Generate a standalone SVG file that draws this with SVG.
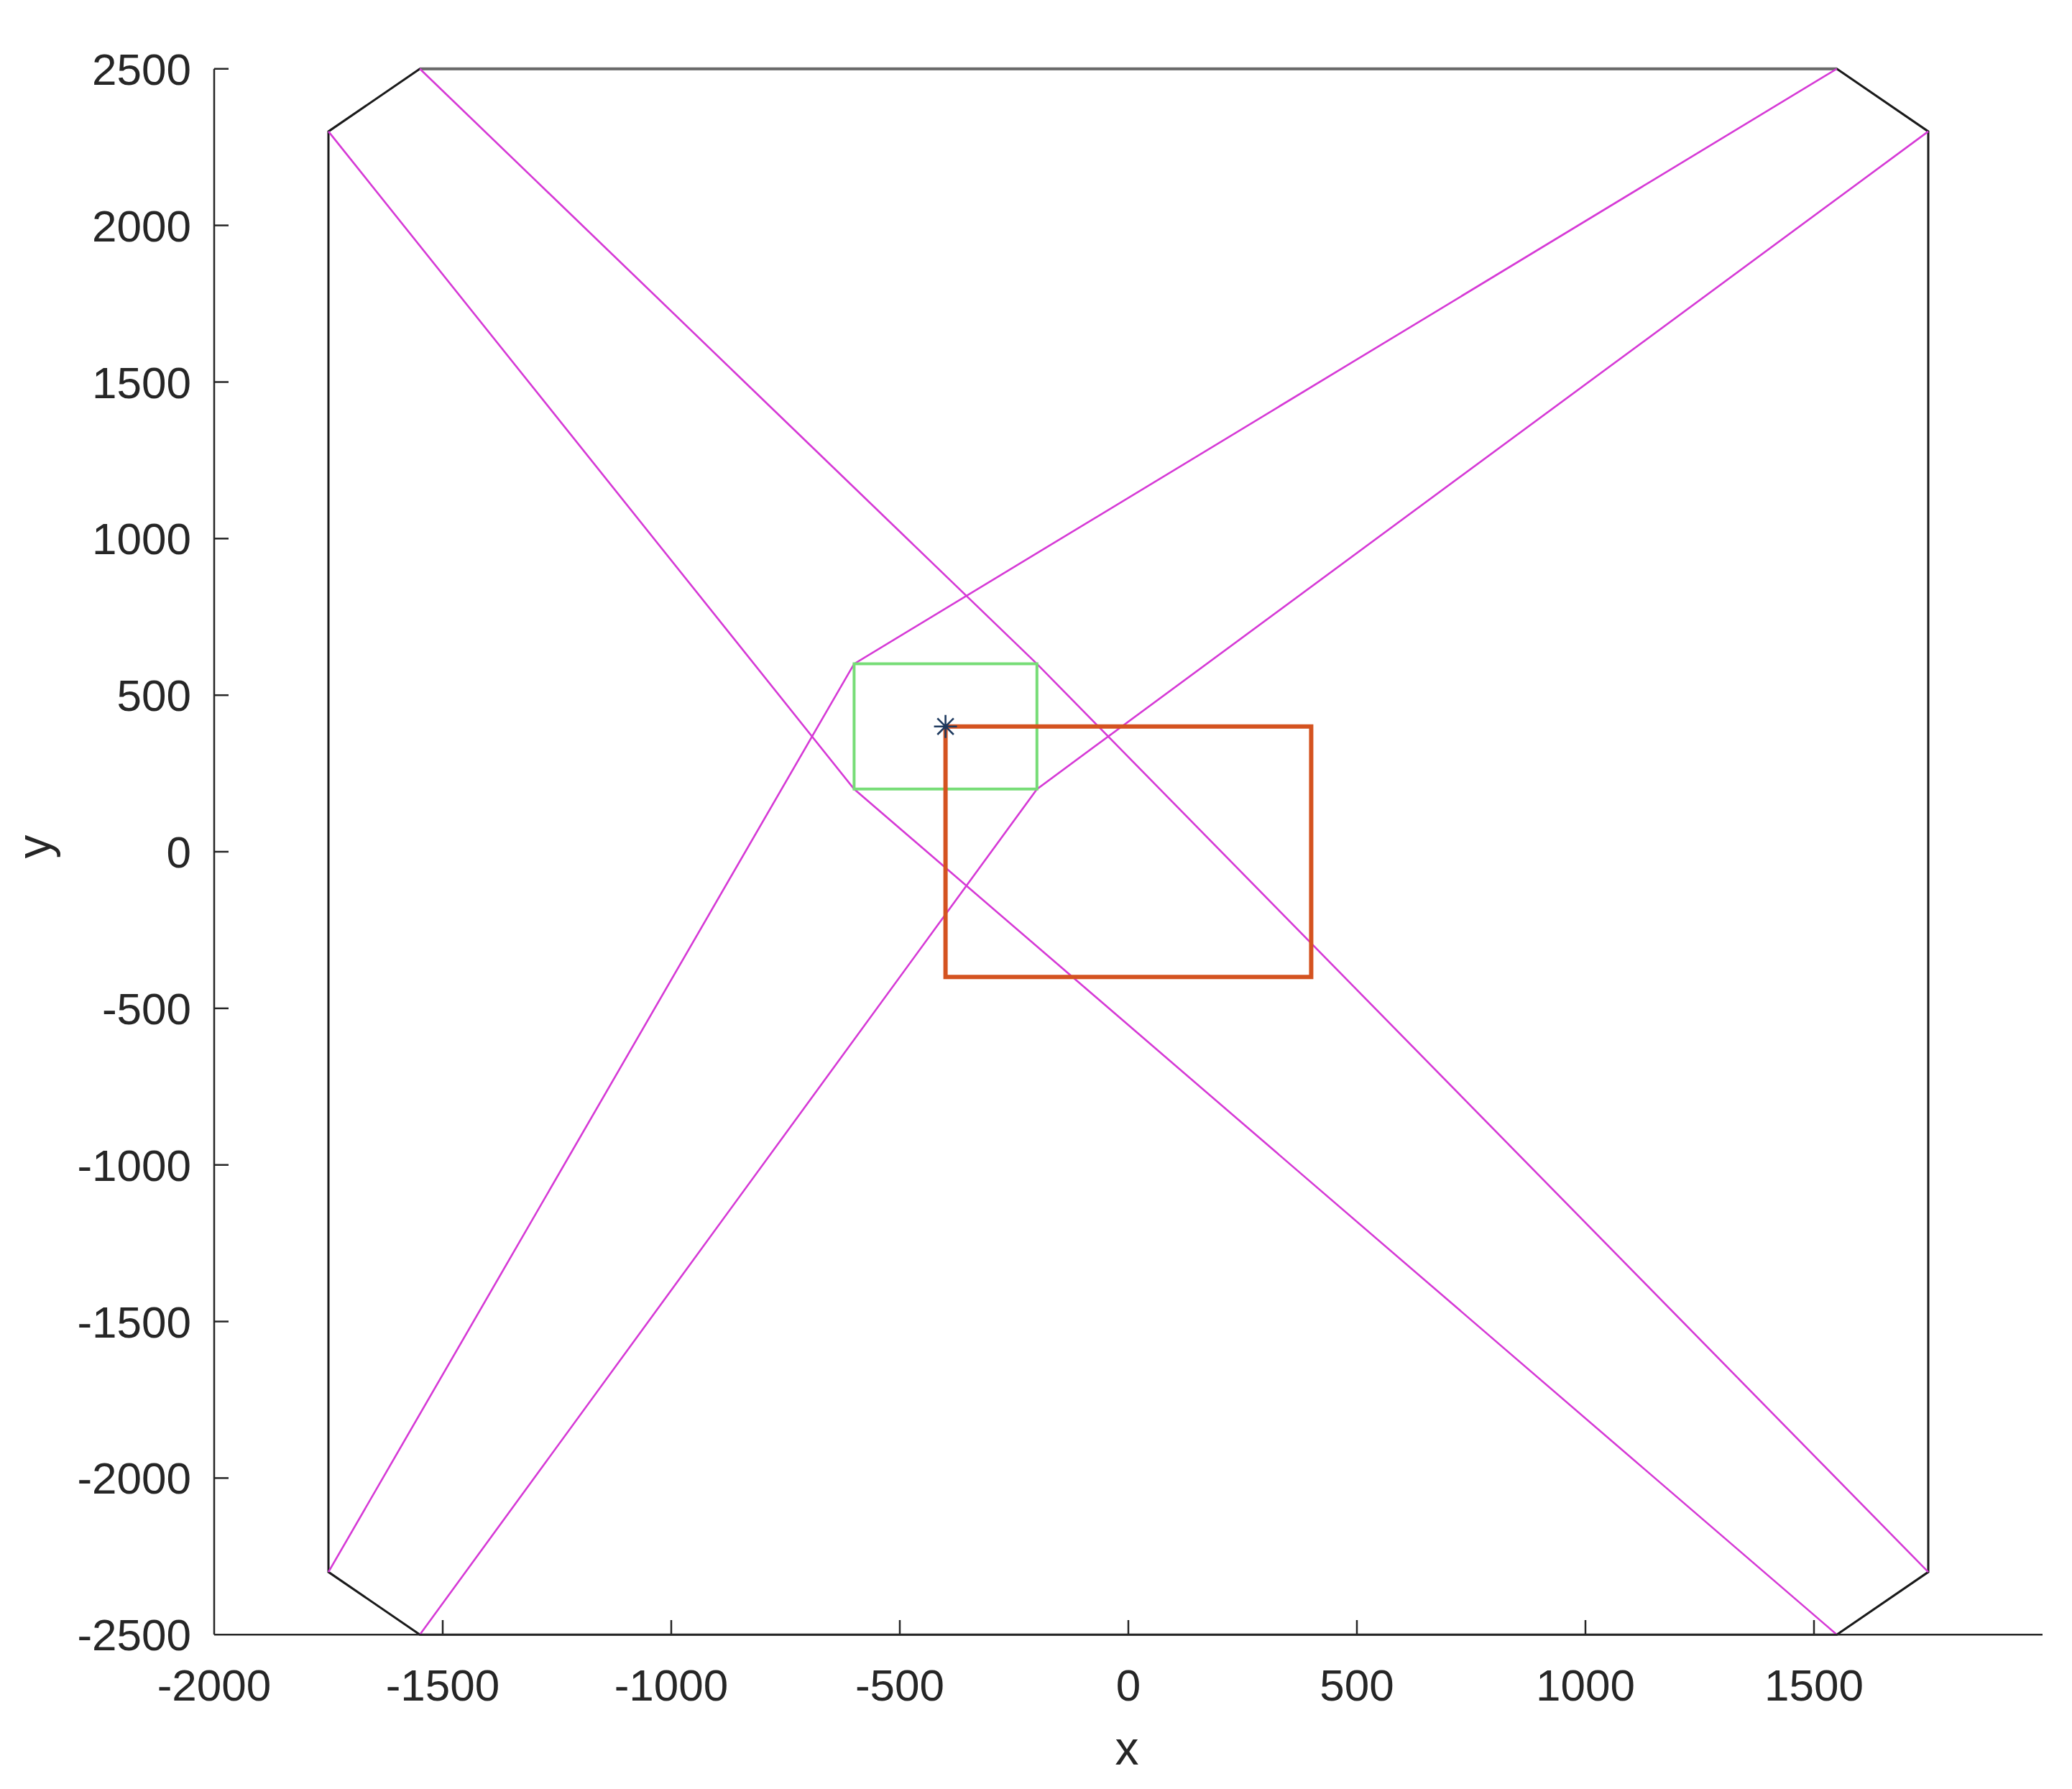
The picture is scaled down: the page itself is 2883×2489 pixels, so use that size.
<svg xmlns="http://www.w3.org/2000/svg" width="2883" height="2489" viewBox="0 0 2883 2489">
<style>
.ax{stroke:#262626;stroke-width:2.5;fill:none}
.tk{stroke:#262626;stroke-width:2.5}
.lbl{font-family:"Liberation Sans",Arial,sans-serif;font-size:62px;fill:#262626}
.yl{text-anchor:end}
.xl{text-anchor:middle}
.d{vector-effect:non-scaling-stroke;fill:none;stroke-linejoin:miter}
.oct{stroke:#1a1a1a;stroke-width:3}
.mag{stroke:#D63AD6;stroke-width:2.6}
.grn{stroke:#77DD77;stroke-width:4}
.red{stroke:#D45320;stroke-width:6}
.star{stroke:#1E3A5F;stroke-width:2.6}
</style>
<rect width="2883" height="2489" fill="#fff"/>
<g id="plot-data" transform="matrix(0.636 0 0 -0.4357 1570 1185)">
  <polygon id="boundary" class="d oct" points="-1550,2500 1550,2500 1750,2300 1750,-2300 1550,-2500 -1550,-2500 -1750,-2300 -1750,2300"/>
  <line id="top-edge" class="d" stroke="#6a6a6a" stroke-width="4" x1="-1550" y1="2500" x2="1550" y2="2500"/>
  <g id="paths">
    <polyline class="d mag" points="-1550,2500 -200,600 1750,-2300"/>
    <polyline class="d mag" points="-1750,2300 -600,200 1550,-2500"/>
    <polyline class="d mag" points="1550,2500 -600,600 -1750,-2300"/>
    <polyline class="d mag" points="1750,2300 -200,200 -1550,-2500"/>
  </g>
  <rect id="green-rect" class="d grn" x="-600" y="200" width="400" height="400"/>
  <rect id="red-rect" class="d red" x="-400" y="-400" width="800" height="800"/>
</g>
<g id="star-marker" class="star" transform="translate(1315.6 1010.7)">
  <line x1="-16" y1="0" x2="16" y2="0"/>
  <line x1="0" y1="-16" x2="0" y2="16"/>
  <line x1="-11.3" y1="-11.3" x2="11.3" y2="11.3"/>
  <line x1="-11.3" y1="11.3" x2="11.3" y2="-11.3"/>
</g>
<g id="axes">
  <line class="ax" x1="298" y1="95.75" x2="298" y2="2274.25"/>
  <line class="ax" x1="298" y1="2274.25" x2="2842" y2="2274.25"/>
  <g id="yticks" class="tk">
    <line x1="298" y1="95.75" x2="318" y2="95.75"/>
    <line x1="298" y1="313.6" x2="318" y2="313.6"/>
    <line x1="298" y1="531.5" x2="318" y2="531.5"/>
    <line x1="298" y1="749.3" x2="318" y2="749.3"/>
    <line x1="298" y1="967.2" x2="318" y2="967.2"/>
    <line x1="298" y1="1185" x2="318" y2="1185"/>
    <line x1="298" y1="1402.9" x2="318" y2="1402.9"/>
    <line x1="298" y1="1620.7" x2="318" y2="1620.7"/>
    <line x1="298" y1="1838.6" x2="318" y2="1838.6"/>
    <line x1="298" y1="2056.4" x2="318" y2="2056.4"/>
  </g>
  <g id="xticks" class="tk">
    <line x1="616" y1="2274" x2="616" y2="2254"/>
    <line x1="934" y1="2274" x2="934" y2="2254"/>
    <line x1="1252" y1="2274" x2="1252" y2="2254"/>
    <line x1="1570" y1="2274" x2="1570" y2="2254"/>
    <line x1="1888" y1="2274" x2="1888" y2="2254"/>
    <line x1="2206" y1="2274" x2="2206" y2="2254"/>
    <line x1="2524" y1="2274" x2="2524" y2="2254"/>
  </g>
  <g id="ylabels" class="lbl yl">
    <text x="266" y="118">2500</text>
    <text x="266" y="336">2000</text>
    <text x="266" y="554">1500</text>
    <text x="266" y="771">1000</text>
    <text x="266" y="989">500</text>
    <text x="266" y="1207">0</text>
    <text x="266" y="1425">-500</text>
    <text x="266" y="1643">-1000</text>
    <text x="266" y="1861">-1500</text>
    <text x="266" y="2078">-2000</text>
    <text x="266" y="2296">-2500</text>
  </g>
  <g id="xlabels" class="lbl xl">
    <text x="298" y="2366">-2000</text>
    <text x="616" y="2366">-1500</text>
    <text x="934" y="2366">-1000</text>
    <text x="1252" y="2366">-500</text>
    <text x="1570" y="2366">0</text>
    <text x="1888" y="2366">500</text>
    <text x="2206" y="2366">1000</text>
    <text x="2524" y="2366">1500</text>
  </g>
  <text id="xlabel" class="lbl xl" style="font-size:66px" x="1568" y="2455">x</text>
  <text id="ylabel" class="lbl xl" style="font-size:66px" transform="translate(70 1178) rotate(-90)">y</text>
</g>
</svg>
